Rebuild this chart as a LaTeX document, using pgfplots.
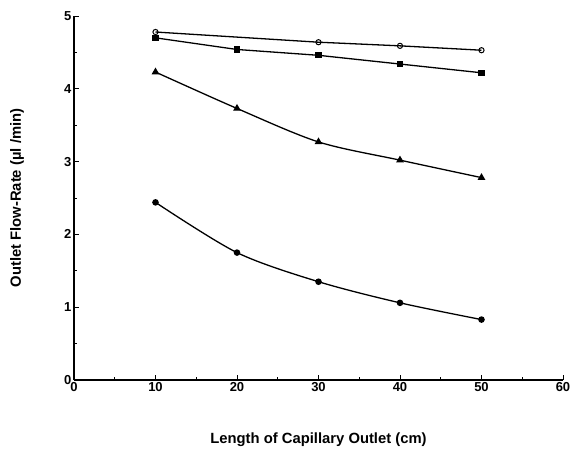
\documentclass[border=0pt]{standalone}
\usepackage{fontspec}
\setmainfont{Liberation Sans}
\usepackage{pgfplots}
\pgfplotsset{compat=1.18}

\begin{document}
\begin{tikzpicture}
\begin{axis}[
  scale only axis,
  width=489pt, height=364pt,
  xmin=0, xmax=60, ymin=0, ymax=5,
  xtick={0,10,...,60}, ytick={0,1,...,5},
  minor xtick={5,15,...,55}, minor ytick={0.5,1.5,...,4.5},
  axis x line*=bottom, axis y line*=left,
  axis line style={-, line width=1.1pt},
  tick align=inside,
  major tick length=5pt, minor tick length=3pt,
  every tick/.style={black, line width=0.9pt},
  tick label style={font=\fontsize{13}{13}\selectfont\bfseries},
  /pgf/number format/assume math mode=true,
  yticklabel style={xshift=1pt},
  xticklabel style={yshift=1pt},
  xlabel={Length of Capillary Outlet (cm)},
  ylabel={Outlet Flow-Rate (\textmu l /min)},
  label style={font=\fontsize{14.8}{14.8}\selectfont\bfseries},
  xlabel style={at={(axis description cs:0.5,-0.165)}, anchor=center},
  ylabel style={at={(axis description cs:-0.1166,0.5)}, anchor=center},
  every axis plot/.append style={black, line width=1.3pt, mark size=2.6pt},
]
\addplot[mark=o, mark options={line width=1pt}] coordinates {(10,4.78) (30,4.64) (40,4.59) (50,4.53)};
\addplot[mark=square*, mark size=2.4pt] coordinates {(10,4.70) (20,4.54) (30,4.46) (40,4.34) (50,4.22)};
\addplot[smooth, mark=triangle*, mark size=3.2pt] coordinates {(10,4.23) (20,3.73) (30,3.27) (40,3.02) (50,2.78)};
\addplot[smooth, mark=*] coordinates {(10,2.44) (20,1.75) (30,1.35) (40,1.06) (50,0.83)};
\end{axis}
\pgfresetboundingbox
\useasboundingbox (-74pt,-72pt) rectangle (500pt,380pt);
\end{tikzpicture}
\end{document}
